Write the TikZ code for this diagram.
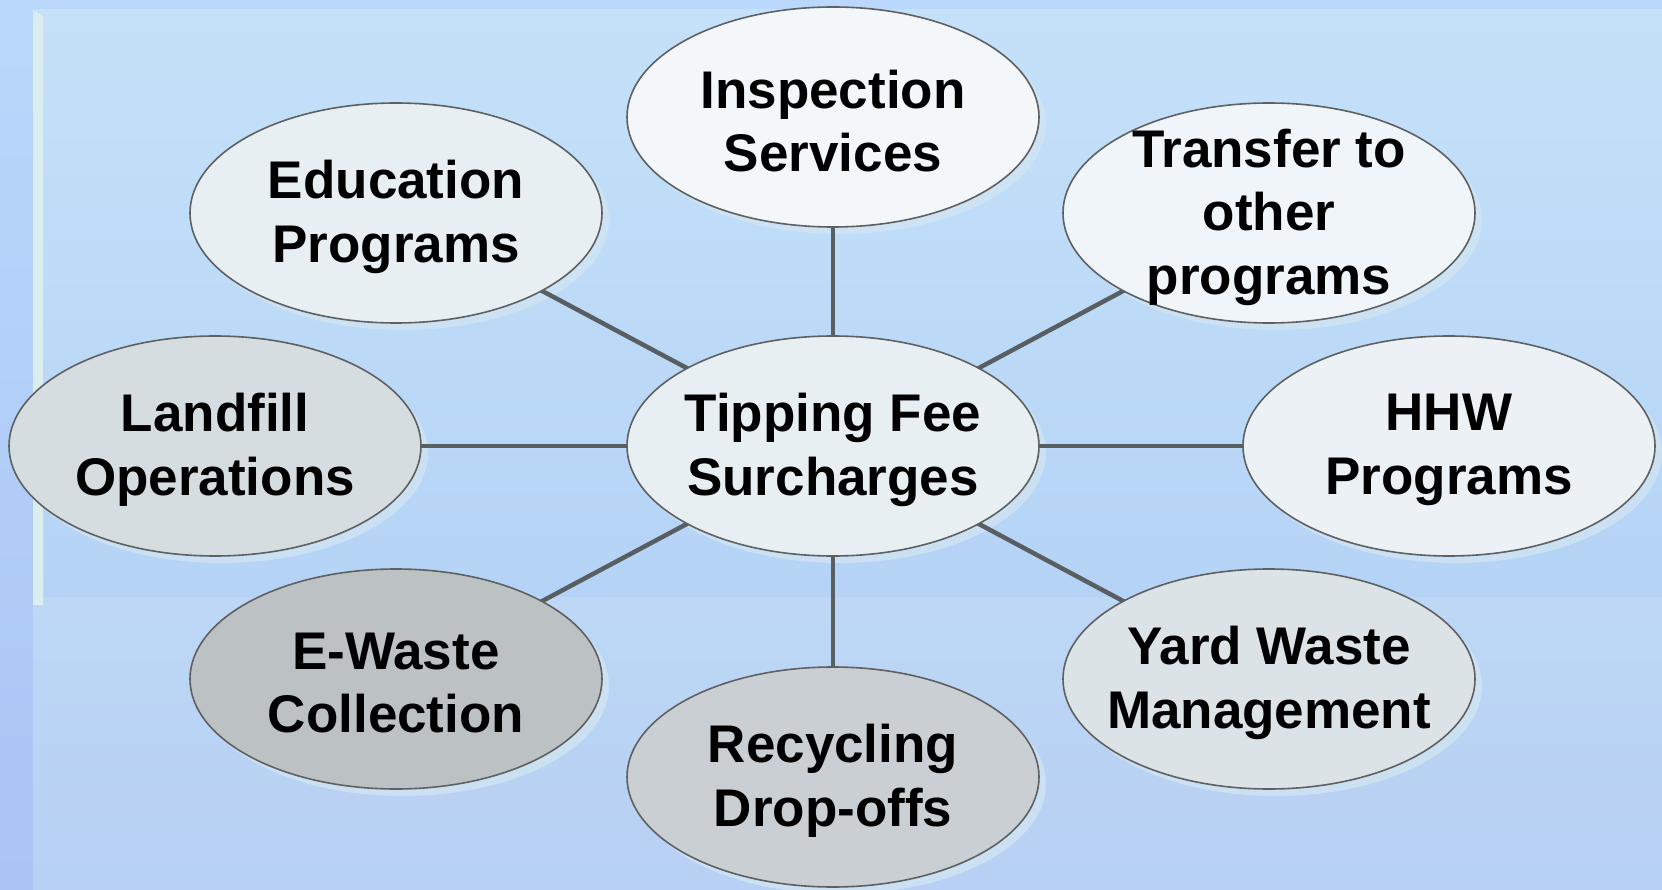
\documentclass[tikz,border=0pt]{standalone}
\usepackage{fontspec}
\setmainfont{Liberation Sans}
\usetikzlibrary{shapes.geometric}
\definecolor{edgegray}{HTML}{5F6062}
\definecolor{linkgray}{HTML}{595E62}
\definecolor{shadowcol}{HTML}{D2E6F2}
\definecolor{cInsp}{HTML}{F4F7F9}
\definecolor{cTrans}{HTML}{EFF5F9}
\definecolor{cEdu}{HTML}{E7EFF3}
\definecolor{cCenter}{HTML}{E8EFF3}
\definecolor{cHHW}{HTML}{EBF1F5}
\definecolor{cLand}{HTML}{D6DDE0}
\definecolor{cYard}{HTML}{DCE3E6}
\definecolor{cRecy}{HTML}{C9CFD2}
\definecolor{cEw}{HTML}{BCC1C4}
\definecolor{bgOutTop}{RGB}{185,216,251}
\definecolor{bgOutBot}{RGB}{170,196,244}
\definecolor{bgPanTop}{RGB}{197,225,249}
\definecolor{bgPanMid}{RGB}{181,211,246}
\definecolor{bgLowTop}{RGB}{189,215,245}
\definecolor{bgLowBot}{RGB}{183,208,244}
\definecolor{barcol}{RGB}{218,238,240}
\tikzset{
  bubble/.style={ellipse, draw=edgegray, line width=1.6pt, minimum width=412pt, minimum height=220pt,
    inner sep=0pt},
  textlbl/.style={align=center, font=\bfseries\fontsize{53}{63.5}\selectfont, text=black, inner sep=0pt, yshift=-4pt},
  bubshadow/.style={ellipse, fill=shadowcol, fill opacity=0.75, minimum width=412pt, minimum height=220pt, inner sep=0pt},
  link/.style={draw=linkgray, line width=4.5pt}
}
\begin{document}
\begin{tikzpicture}[x=1pt,y=-1pt]
\useasboundingbox (0,0) rectangle (1662,890);
% background
\fill[top color=bgOutTop, bottom color=bgOutBot] (0,0) rectangle (1662,890);
\fill[top color=bgPanTop, bottom color=bgPanMid] (33,10) rectangle (1662,597);
\fill[top color=bgLowTop, bottom color=bgLowBot] (33,597) rectangle (1662,890);
\fill[barcol] (33,10) -- (43,16) -- (43,605) -- (33,605) -- cycle;
% shadows
\foreach \px/\py in {833/446,833/117,396/213,1269/213,215/446,1449/446,396/679,833/777,1269/679}
  \node[bubshadow] at (\px+7,\py+7) {};
% positions
\path (833,446) coordinate (pc) (833,117) coordinate (pi) (396,213) coordinate (pe) (1269,213) coordinate (pt)
      (215,446) coordinate (pl) (1449,446) coordinate (ph) (396,679) coordinate (pw) (833,777) coordinate (pr) (1269,679) coordinate (py);
% connectors under nodes
\foreach \a in {pi,pe,pt,pl,ph,pw,pr,py}
  \draw[link] (pc) -- (\a);
% nodes
\node[bubble, fill=cCenter, label={[textlbl]center:{Tipping Fee\\Surcharges}}] (center) at (pc) {};
\node[bubble, fill=cInsp, label={[textlbl]center:{Inspection\\Services}}] (insp) at (pi) {};
\node[bubble, fill=cEdu, label={[textlbl]center:{Education\\Programs}}] (edu) at (pe) {};
\node[bubble, fill=cTrans, label={[textlbl]center:{Transfer to\\other\\programs}}] (trans) at (pt) {};
\node[bubble, fill=cLand, label={[textlbl]center:{Landfill\\Operations}}] (land) at (pl) {};
\node[bubble, fill=cHHW, label={[textlbl]center:{HHW\\Programs}}] (hhw) at (ph) {};
\node[bubble, fill=cEw, label={[textlbl]center:{E-Waste\\Collection}}] (ew) at (pw) {};
\node[bubble, fill=cRecy, label={[textlbl]center:{Recycling\\Drop-offs}}] (recy) at (pr) {};
\node[bubble, fill=cYard, label={[textlbl]center:{Yard Waste\\Management}}] (yard) at (py) {};
\end{tikzpicture}
\end{document}
